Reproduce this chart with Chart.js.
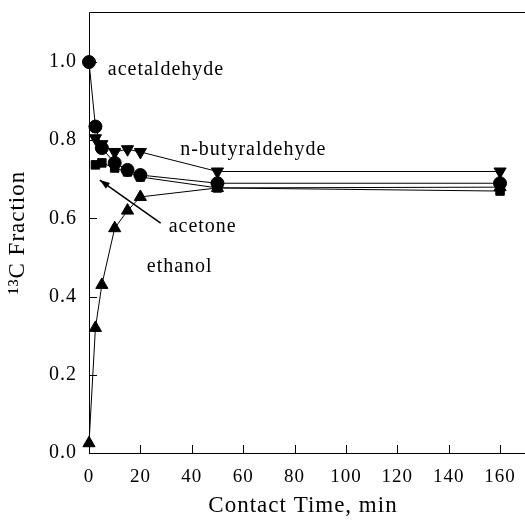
<!DOCTYPE html>
<html>
<head>
<meta charset="utf-8">
<script src="https://cdn.jsdelivr.net/npm/chart.js@4.4.1/dist/chart.umd.min.js"></script>
<style>
html,body{margin:0;padding:0;background:#fff;}
#wrap{width:525px;height:520px;position:relative;}
</style>
</head>
<body>
<div id="wrap"><canvas id="c" width="525" height="520"></canvas></div>
<script>
const xTicks = [0, 20, 40, 60, 80, 100, 120, 140, 160];
const yTicks = [0.0, 0.2, 0.4, 0.6, 0.8, 1.0];

const acetaldehydeT = [0, 2.5, 5, 10, 15, 20, 50, 160];
const acetaldehydeV = [1.0, 0.835, 0.78, 0.742, 0.724, 0.711, 0.69, 0.69];

const butyraldehydeT = [2.5, 5, 10, 15, 20, 50, 160];
const butyraldehydeV = [0.805, 0.79, 0.77, 0.777, 0.77, 0.72, 0.72];

const acetoneT = [2.5, 5, 10, 15, 20, 50, 160];
const acetoneV = [0.737, 0.742, 0.729, 0.719, 0.706, 0.678, 0.67];

const ethanolT = [0, 2.5, 5, 10, 15, 20, 50, 160];
const ethanolV = [0.025, 0.32, 0.43, 0.575, 0.62, 0.655, 0.678, 0.68];

const labels = [
  {text: 'acetaldehyde', x: 7.3, y: 0.98},
  {text: 'n-butyraldehyde', x: 35.5, y: 0.775},
  {text: 'acetone', x: 31, y: 0.578},
  {text: 'ethanol', x: 22.5, y: 0.476}
];
const arrow = {x1: 27.9, y1: 0.588, x2: 4.2, y2: 0.698};

const pts = (t, v) => t.map((x, i) => ({x: x, y: v[i]}));
const serif = '"Liberation Serif", "DejaVu Serif", serif';

const ds = (data, style, r, rot) => ({
  data: data, borderColor: '#000', backgroundColor: '#000', borderWidth: 1,
  pointStyle: style, pointRadius: r, pointHoverRadius: r, pointRotation: rot || 0,
  showLine: true, tension: 0
});

const decor = {
  id: 'decor',
  beforeDraw(chart) {
    chart.ctx.letterSpacing = '1px';
  },
  afterDraw(chart) {
    const ctx = chart.ctx, a = chart.chartArea;
    const xs = chart.scales.x, ys = chart.scales.y;
    ctx.save();
    ctx.strokeStyle = '#000';
    ctx.lineWidth = 1;
    ctx.beginPath();
    ctx.moveTo(a.left + 0.5, a.bottom + 0.5);
    ctx.lineTo(a.left + 0.5, a.top + 0.5);
    ctx.lineTo(chart.width, a.top + 0.5);
    ctx.moveTo(a.left + 0.5, a.bottom + 0.5);
    ctx.lineTo(chart.width, a.bottom + 0.5);
    xTicks.forEach(v => {
      const px = Math.round(xs.getPixelForValue(v)) + 0.5;
      ctx.moveTo(px, a.bottom);
      ctx.lineTo(px, a.bottom - 8);
    });
    yTicks.forEach(v => {
      const py = Math.round(ys.getPixelForValue(v)) + 0.5;
      ctx.moveTo(a.left, py);
      ctx.lineTo(a.left + 8, py);
    });
    ctx.stroke();
    ctx.fillStyle = '#000';
    ctx.font = '20px ' + serif;
    ctx.letterSpacing = '1px';
    ctx.textBaseline = 'middle';
    ctx.textAlign = 'left';
    labels.forEach(l => ctx.fillText(l.text, xs.getPixelForValue(l.x), ys.getPixelForValue(l.y)));
    const x1 = xs.getPixelForValue(arrow.x1), y1 = ys.getPixelForValue(arrow.y1);
    const x2 = xs.getPixelForValue(arrow.x2), y2 = ys.getPixelForValue(arrow.y2);
    ctx.beginPath();
    ctx.lineWidth = 1.5;
    ctx.moveTo(x1, y1); ctx.lineTo(x2, y2); ctx.stroke();
    const ang = Math.atan2(y2 - y1, x2 - x1), L = 10, W = 3.5;
    ctx.beginPath();
    ctx.moveTo(x2, y2);
    ctx.lineTo(x2 - L * Math.cos(ang) + W * Math.sin(ang), y2 - L * Math.sin(ang) - W * Math.cos(ang));
    ctx.lineTo(x2 - L * Math.cos(ang) - W * Math.sin(ang), y2 - L * Math.sin(ang) + W * Math.cos(ang));
    ctx.closePath(); ctx.fill();
    ctx.restore();
  }
};

new Chart(document.getElementById('c'), {
  type: 'scatter',
  data: {
    datasets: [
      ds(pts(acetaldehydeT, acetaldehydeV), 'circle', 6.5),
      ds(pts(butyraldehydeT, butyraldehydeV), 'triangle', 7, 180),
      ds(pts(acetoneT, acetoneV), 'rect', 6),
      ds(pts(ethanolT, ethanolV), 'triangle', 7)
    ]
  },
  options: {
    responsive: false,
    animation: false,
    clip: false,
    layout: {padding: {top: 12, right: 0, left: 0, bottom: 0}},
    plugins: {legend: {display: false}, tooltip: {enabled: false}},
    scales: {
      x: {
        type: 'linear', min: 0, max: 166.6,
        afterBuildTicks: s => { s.ticks = xTicks.map(v => ({value: v})); },
        afterFit: s => { s.height = 67; s.paddingLeft = 0; s.paddingRight = 0; },
        grid: {display: false}, border: {display: false},
        ticks: {color: '#000', font: {family: serif, size: 19}, padding: 5, maxRotation: 0, autoSkip: false},
        title: {display: true, text: 'Contact Time, min', color: '#000', font: {family: serif, size: 23}, padding: {top: 3, bottom: 0}}
      },
      y: {
        type: 'linear', min: 0, max: 1.128,
        afterBuildTicks: s => { s.ticks = yTicks.map(v => ({value: v})); },
        afterFit: s => { s.width = 89; s.paddingTop = 0; s.paddingBottom = 0; },
        grid: {display: false}, border: {display: false},
        ticks: {color: '#000', font: {family: serif, size: 20}, padding: 4, callback: v => Number(v).toFixed(1)},
        title: {display: true, text: '¹³C Fraction', color: '#000', font: {family: serif, size: 23}, padding: {bottom: 4}}
      }
    }
  },
  plugins: [decor]
});
</script>
</body>
</html>
